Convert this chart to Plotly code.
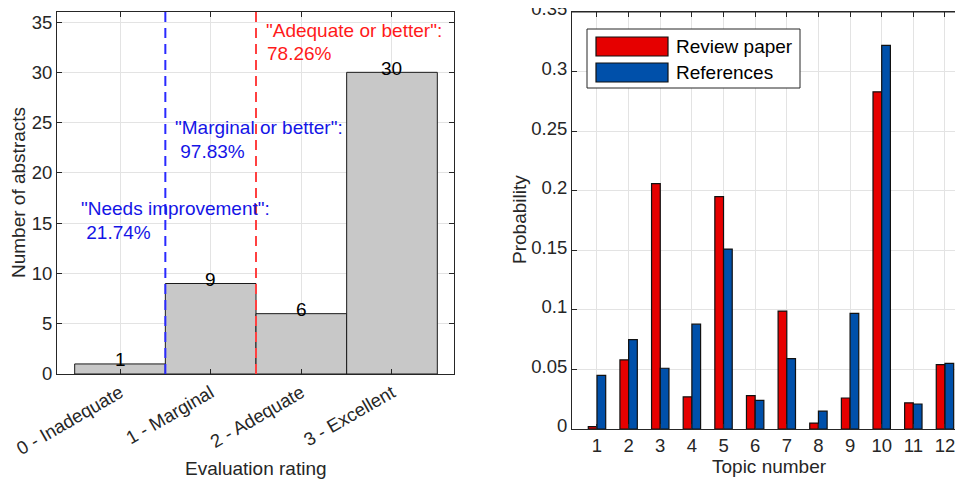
import plotly.graph_objects as go

# ---- data ----
rating_labels = ["0 - Inadequate", "1 - Marginal", "2 - Adequate", "3 - Excellent"]
rating_counts = [1, 9, 6, 30]

topics = [1, 2, 3, 4, 5, 6, 7, 8, 9, 10, 11, 12]
review_paper = [0.002, 0.058, 0.206, 0.027, 0.195, 0.028, 0.099, 0.005, 0.026, 0.283, 0.022, 0.054]
references = [0.045, 0.075, 0.051, 0.088, 0.151, 0.024, 0.059, 0.015, 0.097, 0.322, 0.021, 0.055]
series_names = ["Review paper", "References"]
series_colors = ["#e60000", "#0050aa"]
prob_ticks = [0, 0.05, 0.1, 0.15, 0.2, 0.25, 0.3, 0.35]
prob_tick_labels = ["0", "0.05", "0.1", "0.15", "0.2", "0.25", "0.3", "0.35"]
count_ticks = [0, 5, 10, 15, 20, 25, 30, 35]

threshold_texts = [
    ('"Needs improvement":', " 21.74%"),
    ('"Marginal or better":', " 97.83%"),
    ('"Adequate or better":', "78.26%"),
]

# page is shown with an 8px body margin; figure sized to fit the window
OFF = 8
W, H = 955, 480
FONT = "Liberation Sans, Arial, sans-serif"
TXT = "#262626"
GRID = "#e3e3e3"
FS = 19
TFS = 18.5

def px(x):
    return (x - OFF) / W

def py(y):
    return 1 - (y - OFF) / H

fig = go.Figure()

fig.add_trace(go.Bar(
    x=list(range(len(rating_labels))), y=rating_counts, width=1,
    marker=dict(color="#c8c8c8", line=dict(color="#1a1a1a", width=1)),
    xaxis="x", yaxis="y", showlegend=False,
))

for name, vals, col in zip(series_names, [review_paper, references], series_colors):
    fig.add_trace(go.Bar(
        x=topics, y=vals, name=name,
        marker=dict(color=col, line=dict(color="#111111", width=1.2)),
        xaxis="x2", yaxis="y2", showlegend=False,
    ))

axis_common = dict(
    showline=True, linecolor=TXT, linewidth=1, mirror="ticks",
    ticks="inside", ticklen=5, tickcolor=TXT, automargin=False,
    ticklabeloverflow="allow",
    showgrid=True, gridcolor=GRID, gridwidth=1, zeroline=False,
    tickfont=dict(family=FONT, size=TFS, color=TXT),
)

fig.update_layout(
    template="none",
    width=W, height=H,
    margin=dict(l=0, r=0, t=0, b=0, autoexpand=False),
    paper_bgcolor="white", plot_bgcolor="white",
    barmode="group", bargap=0.45, bargroupgap=0.0,
    font=dict(family=FONT, size=FS, color=TXT),
    xaxis=dict(axis_common, domain=[px(57), px(454)], range=[-0.695, 3.684],
               tickvals=list(range(len(rating_labels))), ticktext=rating_labels,
               tickangle=-30),
    yaxis=dict(axis_common, domain=[py(374), py(12)], range=[0, 36],
               tickvals=count_ticks),
    xaxis2=dict(axis_common, domain=[px(572), 1.0], range=[0.21, 12.57],
                tickvals=topics, anchor="y2"),
    yaxis2=dict(axis_common, domain=[py(429), py(12)], range=[0, 0.35],
                tickvals=prob_ticks, ticktext=prob_tick_labels,
                ticklabelshift=-3, anchor="x2"),
)

# top frame line of right panel
fig.add_shape(type="line", xref="paper", yref="paper", x0=px(572), x1=1, y0=py(12), y1=py(12),
              line=dict(color=TXT, width=1))

# threshold dashed lines
fig.add_shape(type="line", xref="x", yref="y domain", x0=0.5, x1=0.5, y0=0, y1=1,
              line=dict(color="#2a2aff", width=2, dash="10px,6px"))
fig.add_shape(type="line", xref="x", yref="y domain", x0=1.5, x1=1.5, y0=0, y1=1,
              line=dict(color="#ff4040", width=2, dash="10px,6px"))

# bar value labels
for i, v in enumerate(rating_counts):
    fig.add_annotation(x=i, y=v, xref="x", yref="y", text=str(v), showarrow=False,
                       yanchor="middle", yshift=4,
                       font=dict(family=FONT, size=FS, color="#000000"))

# threshold annotations
ann_pos = [((-0.45, 16.5), (-0.45, 14.1), "#1515e6"),
           ((0.585, 24.55), (0.585, 22.17), "#1515e6"),
           ((1.588, 34.2), (1.6, 31.9), "#ff1a1a")]
for (l1, l2), (p1, p2, col) in zip(threshold_texts, ann_pos):
    fig.add_annotation(x=p1[0], y=p1[1], xref="x", yref="y", text=l1, showarrow=False,
                       xanchor="left", yanchor="middle", font=dict(family=FONT, size=FS, color=col))
    fig.add_annotation(x=p2[0], y=p2[1], xref="x", yref="y", text=l2.replace(" ", "&nbsp;"), showarrow=False,
                       xanchor="left", yanchor="middle", font=dict(family=FONT, size=FS, color=col))

# axis titles
fig.add_annotation(x=px(18), y=py(193), xref="paper", yref="paper", text="Number of abstracts",
                   textangle=-90, showarrow=False, xanchor="center", yanchor="middle",
                   font=dict(family=FONT, size=FS, color=TXT))
fig.add_annotation(x=px(256), y=py(468), xref="paper", yref="paper", text="Evaluation rating",
                   showarrow=False, xanchor="center", yanchor="middle",
                   font=dict(family=FONT, size=FS, color=TXT))
fig.add_annotation(x=px(519), y=py(220), xref="paper", yref="paper", text="Probability",
                   textangle=-90, showarrow=False, xanchor="center", yanchor="middle",
                   font=dict(family=FONT, size=FS, color=TXT))
fig.add_annotation(x=px(769), y=py(466), xref="paper", yref="paper", text="Topic number",
                   showarrow=False, xanchor="center", yanchor="middle",
                   font=dict(family=FONT, size=FS, color=TXT))

# legend (drawn manually with wide swatches)
fig.add_shape(type="rect", xref="paper", yref="paper", x0=px(587), x1=px(800), y0=py(88), y1=py(29),
              line=dict(color=TXT, width=1), fillcolor="white", layer="above")
for k, (name, col) in enumerate(zip(series_names, series_colors)):
    y0, y1 = 37 + 26 * k, 56 + 26 * k
    fig.add_shape(type="rect", xref="paper", yref="paper", x0=px(596), x1=px(668), y0=py(y1), y1=py(y0),
                  line=dict(color="#111111", width=1.2), fillcolor=col, layer="above")
    fig.add_annotation(x=px(674), y=py((y0 + y1) / 2), xref="paper", yref="paper", text=name,
                       showarrow=False, xanchor="left", yanchor="middle",
                       font=dict(family=FONT, size=FS, color="#000000"))

fig.write_html("out.html", config={"displayModeBar": False})
